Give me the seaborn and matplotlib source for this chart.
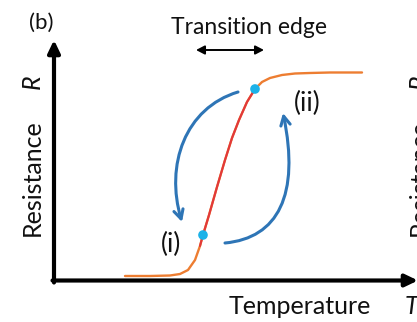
import matplotlib
matplotlib.use("Agg")
import matplotlib.pyplot as plt
import seaborn as sns
from matplotlib.patches import FancyArrowPatch, ArrowStyle
from matplotlib.path import Path

# ---- data (schematic R(T) transition curve, arbitrary units) ----
temperature = [1.967, 2.659, 3.213, 3.490, 3.712, 3.906, 4.044, 4.127, 4.294,
               4.515, 4.737, 4.931, 5.125, 5.346, 5.568, 5.762, 5.983, 6.316,
               6.676, 7.091, 7.645, 8.532]
resistance = [0.187, 0.187, 0.208, 0.270, 0.437, 0.852, 1.435, 1.892, 2.723,
              3.888, 5.010, 5.925, 6.674, 7.422, 7.963, 8.254, 8.420, 8.545,
              8.607, 8.628, 8.649, 8.649]
steep_start, steep_end = 6, 14          # red (steep) part of the curve
point_T = [4.127, 5.568]                # operating points (i) and (ii)
point_R = [1.892, 7.963]
point_labels = ["(i)", "(ii)"]

ORANGE = "#ED7D31"
RED = "#E2383A"
BLUE = "#2E75B6"
CYAN = "#1DB2E8"

sns.set_theme(style="white")
plt.rcParams["font.family"] = ["Lato", "DejaVu Sans"]

fig = plt.figure(figsize=(4.17, 3.22), dpi=100)
ax = fig.add_axes([0, 0, 1, 1])
ax.set_axis_off()


def P(x, y):
    """pixel position of the layout -> data coordinates"""
    return ((x - 54) / 36.1, (280.5 - y) / 24.05)


ax.set_xlim(P(0, 0)[0], P(417, 0)[0])
ax.set_ylim(P(0, 322)[1], P(0, 0)[1])

# curve
sns.lineplot(x=temperature, y=resistance, sort=False, estimator=None,
             color=ORANGE, lw=1.7, ax=ax)
sns.lineplot(x=temperature[steep_start:steep_end + 1],
             y=resistance[steep_start:steep_end + 1], sort=False,
             estimator=None, color=RED, lw=1.5, ax=ax)
sns.scatterplot(x=point_T, y=point_R, s=48, color=CYAN, edgecolor="none",
                zorder=6, ax=ax)

# axes with arrows
axis_style = ArrowStyle("-|>", head_length=7.5, head_width=3.6)
ax.add_patch(FancyArrowPatch(P(54, 282.5), P(54, 40), arrowstyle=axis_style,
                             mutation_scale=1, lw=3, color="black",
                             shrinkA=0, shrinkB=0, zorder=4))
ax.add_patch(FancyArrowPatch(P(52.5, 280.5), P(418, 280.5), arrowstyle=axis_style,
                             mutation_scale=1, lw=3, color="black",
                             shrinkA=0, shrinkB=0, zorder=4))

# transition edge double arrow
ax.add_patch(FancyArrowPatch(P(196, 50), P(264, 50),
                             arrowstyle=ArrowStyle("<|-|>", head_length=5, head_width=2.6),
                             mutation_scale=1, lw=1.4, color="black",
                             shrinkA=0, shrinkB=0))

# blue cycle arrows (cubic bezier)
arc_style = ArrowStyle("->", head_length=6.5, head_width=3.4)
left_arc = Path([P(238, 92), P(185, 108), P(165, 165), P(182, 222)],
                [Path.MOVETO, Path.CURVE4, Path.CURVE4, Path.CURVE4])
right_arc = Path([P(225, 243), P(278, 238), P(300, 195), P(283, 113)],
                 [Path.MOVETO, Path.CURVE4, Path.CURVE4, Path.CURVE4])
for pth in (left_arc, right_arc):
    ax.add_patch(FancyArrowPatch(path=pth, arrowstyle=arc_style,
                                 mutation_scale=1, lw=2.2, color=BLUE,
                                 capstyle="round", joinstyle="round"))

# texts
fs = 18
ink = "#111111"
ax.text(*P(41, 23), "(b)", fontsize=16, ha="center", va="center", color=ink)
ax.text(*P(249, 27), "Transition edge", fontsize=16.5, ha="center", va="center",
        color=ink)
ax.text(*P(171, 244), point_labels[0], fontsize=19, ha="center", va="center",
        color=ink)
ax.text(*P(307, 103), point_labels[1], fontsize=19, ha="center", va="center",
        color=ink)
ax.text(*P(300, 307), "Temperature", fontsize=fs, ha="center", va="center",
        color=ink)
ax.text(*P(405, 307), "T", fontsize=fs, ha="left", va="center", style="italic",
        color=ink)
for cx in (32, 419):
    ax.text(*P(cx, 178), "Resistance", fontsize=fs, rotation=90, ha="center",
            va="center", color=ink)
    ax.text(*P(cx, 82), "R", fontsize=fs, rotation=90, ha="center",
            va="center", style="italic", color=ink)

fig.savefig("out.png", dpi=100)
